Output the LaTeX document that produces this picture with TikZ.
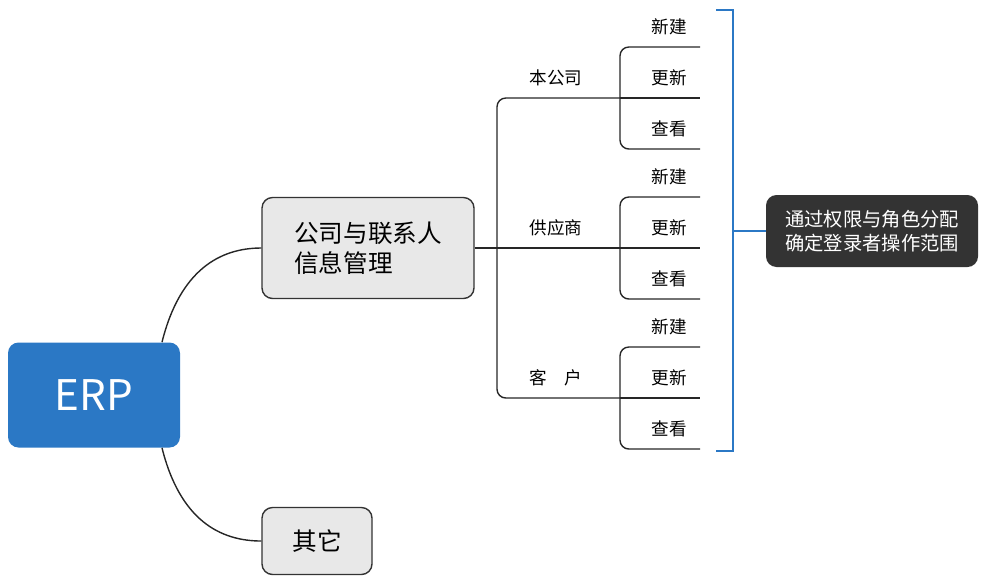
\documentclass[tikz,border=0pt]{standalone}
\usepackage{fontspec}
\setmainfont{Noto Sans CJK SC}
\usetikzlibrary{positioning}
\definecolor{erpblue}{HTML}{2B78C5}
\definecolor{bracketblue}{HTML}{2B78C5}
\begin{document}
\begin{tikzpicture}[
    x=0.02cm, y=-0.02cm,
    topic/.style={rectangle, rounded corners=6pt, draw=black!80, fill=black!9, thick, font=\fontsize{14}{17}\selectfont, align=left},
    leaf/.style={font=\fontsize{10}{12}\selectfont},
    line/.style={black!85, thick, rounded corners=5pt}
  ]
    \useasboundingbox (0,0) rectangle (989,586);
    % Root and main topics
    \node[rectangle, rounded corners=6pt, fill=erpblue, minimum width=172*0.02cm, minimum height=105*0.02cm,
          text=white, font=\fontsize{24}{28}\selectfont] (erp) at (94,395) {ERP};
    \node[topic, minimum width=212*0.02cm, minimum height=101*0.02cm] (info) at (368,248) {公司与联系人\\信息管理};
    \node[topic, minimum width=110*0.02cm, minimum height=67*0.02cm] (other) at (317,541) {其它};
    \draw[black!85, thick] (erp.north) ++(68,0) coordinate (e1) .. controls (180,270) and (220,248) .. (info.west);
    \draw[black!85, thick] (erp.south) ++(68,0) coordinate (e2) .. controls (180,520) and (220,541) .. (other.west);

    % Second level
    \coordinate (hub) at (497,248);
    \draw[black!85, thick] (info.east) -- (hub);
    \foreach \name/\lbl/\y in {own/本公司/98, supp/供应商/248, cust/客\quad 户/398} {
      \node[leaf] (\name) at (556,\y-20) {\lbl};
      \coordinate (\name-end) at (620,\y);
    }
    \draw[line] (own-end) -- (497,98) -- (497,398) -- (cust-end);
    \draw[line] (hub) -- (supp-end);

    % Third level
    \foreach \name/\y in {own/98, supp/248, cust/398} {
      \draw[line] (700,\y-51) -- (620,\y-51) -- (620,\y+51) -- (700,\y+51);
      \draw[line] (\name-end) -- (700,\y);
      \node[leaf] (\name-new) at (669,\y-71) {新建};
      \node[leaf] (\name-upd) at (669,\y-20) {更新};
      \node[leaf] (\name-view) at (669,\y+31) {查看};
    }

    % Bracket and note
    \draw[bracketblue, very thick] (716,10) -- (733,10) -- (733,451) -- (716,451);
    \node[rectangle, rounded corners=6pt, fill=black!80, minimum width=212*0.02cm, minimum height=72*0.02cm,
          text=white, font=\fontsize{11}{14}\selectfont\itshape, align=center] (note) at (872,231)
          {通过权限与角色分配\\确定登录者操作范围};
    \draw[bracketblue, very thick] (733,231) -- (note.west);
  \end{tikzpicture}
\end{document}
